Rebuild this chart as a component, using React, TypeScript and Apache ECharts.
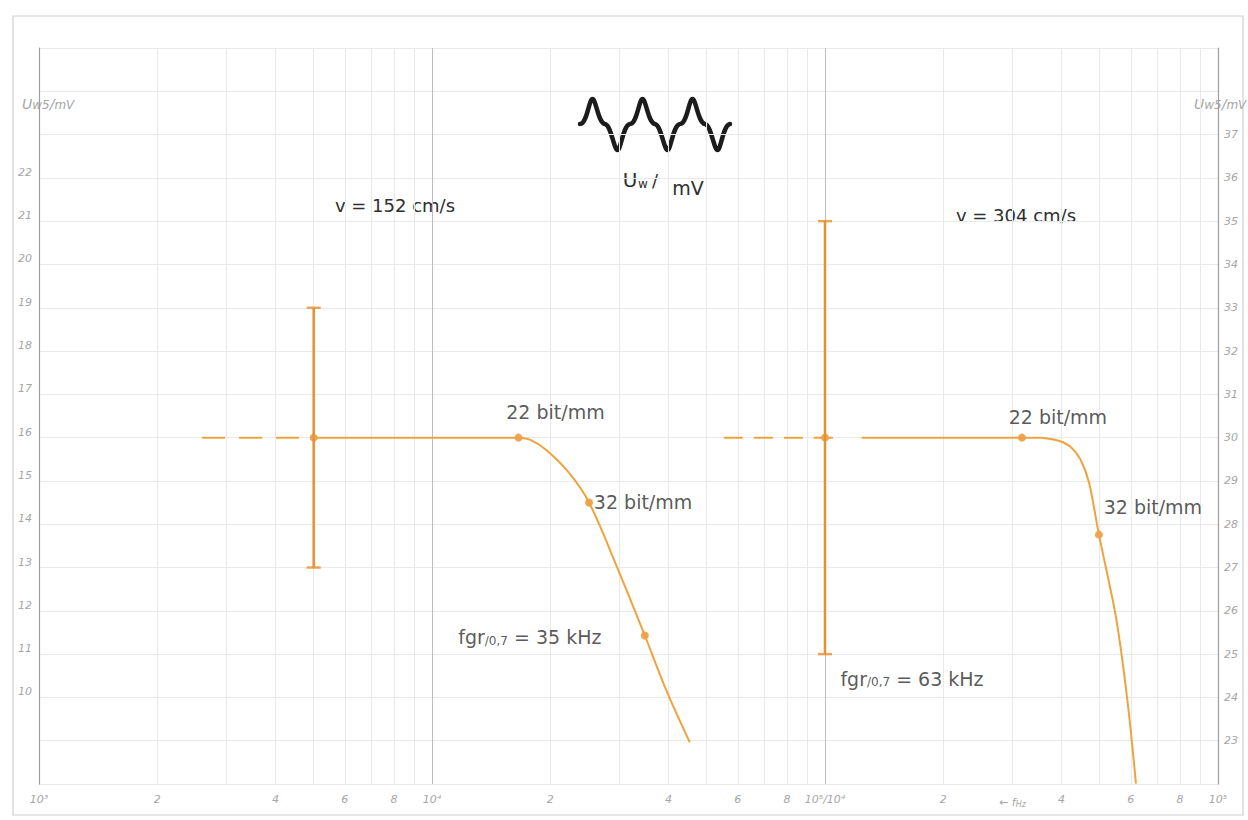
import React, { useEffect, useRef } from "react";
import * as echarts from "echarts";

const lg = (f: number) => +Math.log10(f).toFixed(10);

// ---- axes / tick data ----
const paperLinesHz = [
  1e3, 2e3, 3e3, 4e3, 5e3, 6e3, 7e3, 8e3, 9e3,
  1e4, 2e4, 3e4, 4e4, 5e4, 6e4, 7e4, 8e4, 9e4,
  1e5, 2e5, 3e5, 4e5, 5e5, 6e5, 7e5, 8e5, 9e5,
  1e6,
];
const xLabelHz = [1e3, 2e3, 4e3, 6e3, 8e3, 1e4, 2e4, 4e4, 6e4, 8e4, 1e5, 2e5, 3e5, 4e5, 6e5, 8e5, 1e6];
const xLabelTexts = ["10³", "2", "4", "6", "8", "10⁴", "2", "4", "6", "8", "10⁵/10⁴", "2", "{a|← f}{s|Hz}", "4", "6", "8", "10⁵"];
const leftYTicks = [10, 11, 12, 13, 14, 15, 16, 17, 18, 19, 20, 21, 22];
const rightYTicks = [23, 24, 25, 26, 27, 28, 29, 30, 31, 32, 33, 34, 35, 36, 37];

// ---- left chart: v = 152 cm/s (f in Hz, U in mV) ----
const leftDashed: [number, number][] = [[2600, 16], [5000, 16]];
const leftBarF = 5000;
const leftBarLow = 13;
const leftBarHigh = 19;
const leftFlat: [number, number][] = [[5000, 16], [16600, 16]];
const leftCurve: [number, number][] = [
  [16600, 16], [17800, 15.95], [19500, 15.72], [22300, 15.19],
  [25100, 14.5], [29600, 13.0], [34800, 11.43], [39400, 10.18], [45300, 8.96],
];
const leftDots: [number, number][] = [[5000, 16], [16600, 16], [25100, 14.5], [34800, 11.43]];
const leftDotLabels = ["", "22 bit/mm", "32 bit/mm", "{t|fgr}{s|/0,7}{t| = 35 kHz}"];

// ---- right chart: v = 304 cm/s ----
const rightDashed: [number, number][] = [[5530, 30], [10700, 30]];
const rightBarF = 10000;
const rightBarLow = 25;
const rightBarHigh = 35;
const rightFlat: [number, number][] = [[12400, 30], [35500, 30]];
const rightCurve: [number, number][] = [
  [35500, 30], [39350, 29.93], [42140, 29.79], [44710, 29.49], [47040, 28.94],
  [49770, 27.76], [54950, 25.87], [58780, 23.95], [61840, 22.01],
];
const rightDots: [number, number][] = [[10000, 30], [31700, 30], [49770, 27.76]];
const rightDotLabels = ["", "22 bit/mm", "32 bit/mm"];
const rightCapLabel = "{t|fgr}{s|/0,7}{t| = 63 kHz}";

// ---- styles ----
const ORANGE = "#F0A23E";
const BAR = "#E8902E";
const TEXT = "#2e2e2e";
const TICK = "#a6a6a6";
const MINOR = "#e9e9e9";
const DECADE = "#bdbdbd";
const AXIS = "#9e9e9e";
const FONT = '"DejaVu Sans", sans-serif';

const wavePeriod = (b: number) =>
  `C${b + 7},0 ${b + 9},-25 ${b + 12.5},-25 C${b + 16},-25 ${b + 18},-1 ${b + 25},0 ` +
  `C${b + 31},1 ${b + 34},26 ${b + 37.5},26 C${b + 41},26 ${b + 43},1 ${b + 50},0`;
const WAVE_PATH = "M0,0 " + [0, 50, 100].map(wavePeriod).join(" ");

const labelRich = {
  t: { fontSize: 19, fontFamily: FONT, color: TEXT, lineHeight: 24, verticalAlign: "bottom", textBorderWidth: 0 },
  s: { fontSize: 12, fontFamily: FONT, color: TEXT, lineHeight: 8, verticalAlign: "bottom", textBorderWidth: 0 },
};
const dotLabelBase = {
  show: false,
  position: "inside",
  color: TEXT,
  fontFamily: FONT,
  fontSize: 19,
  textBorderWidth: 0,
  textBorderColor: "transparent",
  rich: labelRich,
};

const axisNameText = {
  text: "{u|U}{s|w5}{u|/}{s|mV}",
  fill: TICK,
  fontStyle: "italic",
  fontFamily: FONT,
  fontSize: 12,
  align: "left",
  verticalAlign: "middle",
  rich: {
    u: { fontSize: 14, fill: TICK, fontStyle: "italic", fontFamily: FONT, lineHeight: 16, verticalAlign: "bottom" },
    s: { fontSize: 12, fill: TICK, fontStyle: "italic", fontFamily: FONT, lineHeight: 9, verticalAlign: "bottom" },
  },
};

function lineSeries(xi: number, data: [number, number][], lineStyle: any, smooth: number | boolean = false) {
  return {
    type: "line",
    xAxisIndex: xi,
    yAxisIndex: xi,
    data: data.map(([f, v]) => [lg(f), v]),
    symbol: "none",
    smooth,
    lineStyle,
    silent: true,
  };
}

function buildOption() {
  const xLabelMap = new Map<string, string>();
  xLabelHz.forEach((f, i) => xLabelMap.set(lg(f).toFixed(4), xLabelTexts[i]));

  const leftOffsets: [number, number][] = [[0, 0], [37, -26], [54, -1], [-115, -1]];
  const rightOffsets: [number, number][] = [[0, 0], [36, -21], [54, -28]];

  const tickLabelStyle = {
    color: TICK,
    fontSize: 11,
    fontStyle: "italic" as const,
    fontFamily: FONT,
  };

  return {
    animation: false,
    backgroundColor: "#ffffff",
    grid: { left: 39, right: 30, top: 48, bottom: 36 },
    xAxis: [
      {
        type: "value",
        min: 3,
        max: 6,
        position: "bottom",
        axisLine: { show: false },
        axisTick: { show: true, length: 0, customValues: paperLinesHz.map(lg), lineStyle: { color: MINOR } },
        splitLine: {
          show: true,
          lineStyle: { color: [DECADE, MINOR, MINOR, MINOR, MINOR, MINOR, MINOR, MINOR, MINOR], width: 1 },
        },
        axisLabel: {
          ...tickLabelStyle,
          margin: 10,
          customValues: xLabelHz.map(lg),
          formatter: (v: number) => xLabelMap.get(v.toFixed(4)) ?? "",
          rich: {
            a: { ...tickLabelStyle, lineHeight: 14, verticalAlign: "bottom" },
            s: { ...tickLabelStyle, fontSize: 8, lineHeight: 6, verticalAlign: "bottom" },
          },
        },
      },
      {
        type: "value",
        min: 2,
        max: 5,
        show: false,
        splitLine: { show: false },
      },
    ],
    yAxis: [
      {
        type: "value",
        min: 8,
        max: 25,
        interval: 1,
        position: "left",
        axisLine: { show: true, lineStyle: { color: AXIS, width: 1.2 } },
        axisTick: { show: false },
        splitLine: { show: true, lineStyle: { color: MINOR, width: 1 } },
        axisLabel: { ...tickLabelStyle, margin: 7, customValues: leftYTicks, verticalAlign: "bottom" },
      },
      {
        type: "value",
        min: 22,
        max: 39,
        interval: 1,
        position: "right",
        axisLine: { show: true, lineStyle: { color: AXIS, width: 1.2 } },
        axisTick: { show: false },
        splitLine: { show: false },
        axisLabel: { ...tickLabelStyle, margin: 6, customValues: rightYTicks },
      },
    ],
    series: [
      // ----- left chart -----
      lineSeries(0, leftDashed, { color: ORANGE, width: 2, type: [23, 14] }),
      lineSeries(0, [[leftBarF, leftBarLow], [leftBarF, leftBarHigh]], { color: BAR, width: 2.5 }),
      {
        type: "scatter",
        xAxisIndex: 0,
        yAxisIndex: 0,
        data: [[lg(leftBarF), leftBarLow], [lg(leftBarF), leftBarHigh]],
        symbol: "rect",
        symbolSize: [14, 2.5],
        itemStyle: { color: BAR },
        silent: true,
      },
      lineSeries(0, leftFlat, { color: ORANGE, width: 2 }),
      lineSeries(0, leftCurve, { color: ORANGE, width: 2 }, 0.35),
      {
        type: "scatter",
        xAxisIndex: 0,
        yAxisIndex: 0,
        symbol: "circle",
        symbolSize: 8,
        itemStyle: { color: BAR },
        label: dotLabelBase,
        data: leftDots.map(([f, v], i) => ({
          value: [lg(f), v],
          label: leftDotLabels[i]
            ? { show: true, formatter: leftDotLabels[i], offset: leftOffsets[i] }
            : { show: false },
        })),
        silent: true,
      },
      // ----- right chart -----
      lineSeries(1, rightDashed, { color: ORANGE, width: 2, type: [19, 11] }),
      lineSeries(1, [[rightBarF, rightBarLow], [rightBarF, rightBarHigh]], { color: BAR, width: 2.5 }),
      {
        type: "scatter",
        xAxisIndex: 1,
        yAxisIndex: 1,
        symbol: "rect",
        symbolSize: [14, 2.5],
        itemStyle: { color: BAR },
        label: dotLabelBase,
        data: [
          {
            value: [lg(rightBarF), rightBarLow],
            label: { show: true, formatter: rightCapLabel, offset: [87, 22] },
          },
          { value: [lg(rightBarF), rightBarHigh] },
        ],
        silent: true,
      },
      lineSeries(1, rightFlat, { color: ORANGE, width: 2 }),
      lineSeries(1, rightCurve, { color: ORANGE, width: 2 }, 0.3),
      {
        type: "scatter",
        xAxisIndex: 1,
        yAxisIndex: 1,
        symbol: "circle",
        symbolSize: 8,
        itemStyle: { color: BAR },
        label: dotLabelBase,
        data: rightDots.map(([f, v], i) => ({
          value: [lg(f), v],
          label: rightDotLabels[i]
            ? { show: true, formatter: rightDotLabels[i], offset: rightOffsets[i] }
            : { show: false },
        })),
        silent: true,
      },
    ],
    graphic: [
      {
        type: "rect",
        silent: true,
        z: -10,
        shape: { x: 13, y: 16, width: 1230, height: 799 },
        style: { fill: "none", stroke: "#cfcfcf", lineWidth: 1.2 },
      },
      {
        type: "uwave",
        x: 580,
        y: 124,
        scaleX: 1.0,
        scaleY: 1.0,
        silent: true,
        style: { fill: "none", stroke: "#1c1c1c", lineWidth: 4.5, lineJoin: "round", lineCap: "round" },
      },
      {
        type: "text",
        x: 630,
        y: 180,
        silent: true,
        style: { text: "U", fill: TEXT, fontSize: 20, fontFamily: FONT, align: "center", verticalAlign: "middle" },
      },
      {
        type: "text",
        x: 643,
        y: 184,
        silent: true,
        style: { text: "w", fill: TEXT, fontSize: 12, fontFamily: FONT, align: "center", verticalAlign: "middle" },
      },
      {
        type: "text",
        x: 655,
        y: 180,
        silent: true,
        style: { text: "/", fill: TEXT, fontSize: 18, fontFamily: FONT, align: "center", verticalAlign: "middle" },
      },
      {
        type: "text",
        x: 688,
        y: 188,
        silent: true,
        style: { text: "mV", fill: TEXT, fontSize: 19, fontFamily: FONT, align: "center", verticalAlign: "middle" },
      },
      {
        type: "text",
        x: 395,
        y: 205,
        silent: true,
        style: { text: "v = 152 cm/s", fill: TEXT, fontSize: 18, fontFamily: FONT, align: "center", verticalAlign: "middle" },
      },
      {
        type: "text",
        x: 1016,
        y: 215,
        silent: true,
        style: { text: "v = 304 cm/s", fill: TEXT, fontSize: 18, fontFamily: FONT, align: "center", verticalAlign: "middle" },
      },
      { type: "text", x: 22, y: 103, silent: true, style: axisNameText },
      { type: "text", x: 1194, y: 103, silent: true, style: axisNameText },
    ],
  };
}

export default function App() {
  const ref = useRef<HTMLDivElement>(null);
  useEffect(() => {
    if (!ref.current) return;
    echarts.graphic.registerShape("uwave", echarts.graphic.extendPath(WAVE_PATH, {}) as any);
    const chart = echarts.init(ref.current, null, { renderer: "svg" });
    chart.setOption(buildOption() as any);
    return () => {
      chart.dispose();
    };
  }, []);
  return (
    <div
      ref={ref}
      style={{ position: "absolute", left: 0, top: 0, width: 1248, height: 820, background: "#ffffff" }}
    />
  );
}
